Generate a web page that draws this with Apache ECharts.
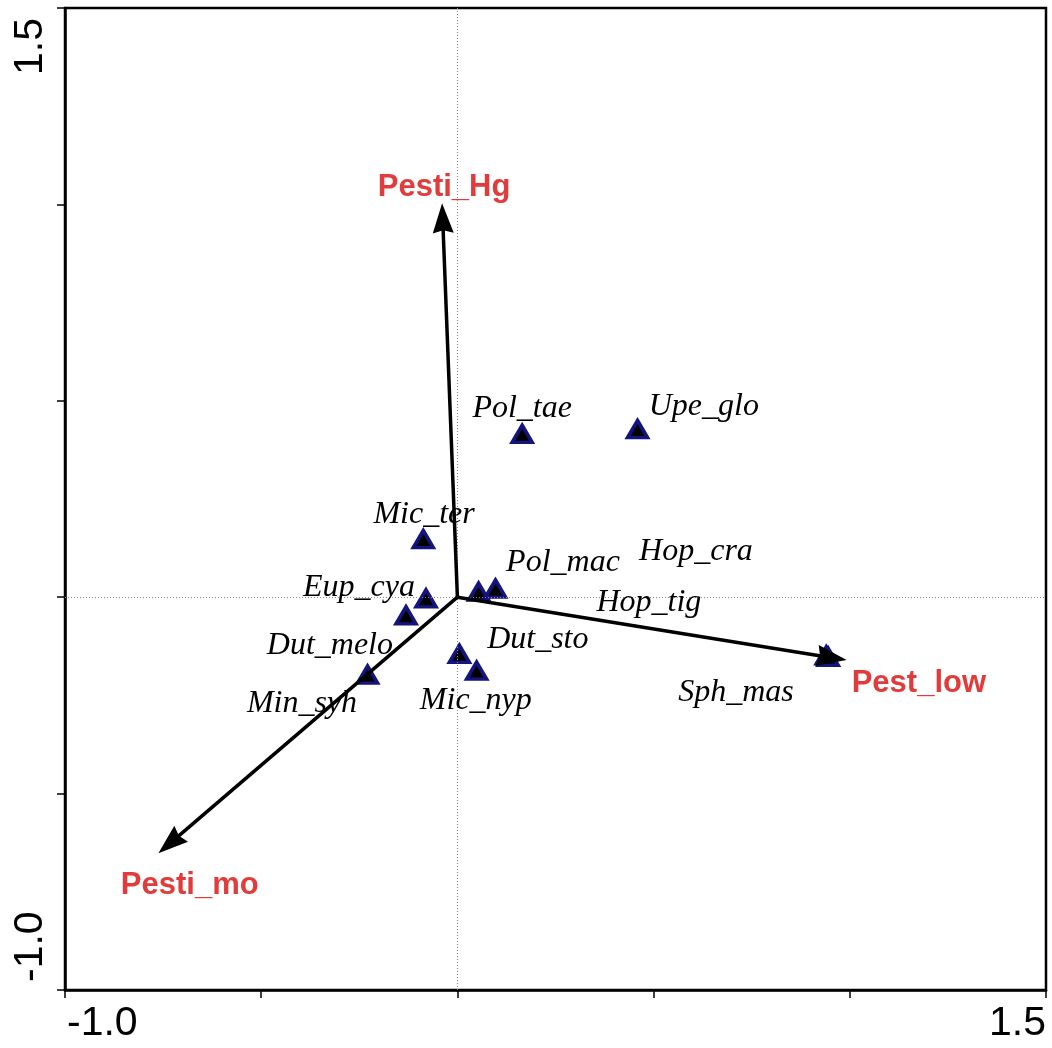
<!DOCTYPE html>
<html>
<head>
<meta charset="utf-8">
<script src="https://cdn.jsdelivr.net/npm/echarts@6/dist/echarts.min.js"></script>
<style>
  html, body { margin: 0; padding: 0; background: #fff; }
  #chart { width: 1052px; height: 1048px; }
</style>
</head>
<body>
<div id="chart"></div>
<script>
// Species scores (ordination axes 1 and 2)
var speciesNames = ['Pol_tae', 'Upe_glo', 'Mic_ter', 'Pol_mac', 'Hop_cra', 'Eup_cya',
                    'Hop_tig', 'Dut_melo', 'Dut_sto', 'Min_syh', 'Mic_nyp', 'Sph_mas'];
var speciesX = [0.165, 0.459, -0.087, 0.054, 0.940, -0.080, 0.097, -0.131, 0.005, -0.229, 0.049, 0.945];
var speciesY = [0.416, 0.428, 0.148, 0.014, -0.148, -0.003, 0.022, -0.046, -0.144, -0.197, -0.187, -0.152];
// Where each species name is written
var speciesLabelX = [0.165, 0.628, -0.085, 0.269, 0.608, -0.251, 0.488, -0.325, 0.205, -0.396, 0.047, 0.710];
var speciesLabelY = [0.481, 0.486, 0.211, 0.089, 0.117, 0.025, -0.015, -0.122, -0.109, -0.270, -0.262, -0.244];

// Environmental variable arrows
var envNames = ['Pesti_Hg', 'Pest_low', 'Pesti_mo'];
var envX = [-0.039, 0.992, -0.762];
var envY = [1.003, -0.160, -0.652];
var envLabelX = [-0.034, 1.176, -0.682];
var envLabelY = [1.044, -0.219, -0.733];

// Axis range and ticks
var axisMin = -1.0, axisMax = 1.5, axisStep = 0.5;

var speciesPoints = speciesNames.map(function (n, i) { return [speciesX[i], speciesY[i], n]; });
var speciesLabels = speciesNames.map(function (n, i) { return [speciesLabelX[i], speciesLabelY[i], n]; });
var envArrows = envNames.map(function (n, i) { return [envX[i], envY[i], n]; });
var envLabels = envNames.map(function (n, i) { return [envLabelX[i], envLabelY[i], n]; });

function endLabel(v) {
  if (Math.abs(v - axisMin) < 1e-9 || Math.abs(v - axisMax) < 1e-9) return v.toFixed(1);
  return '';
}

var chart = echarts.init(document.getElementById('chart'), null, { renderer: 'canvas' });

function makeAxis(extraLabel) {
  var label = {
    show: true,
    formatter: endLabel,
    color: '#000',
    fontFamily: 'Liberation Sans, Arial, sans-serif',
    fontSize: 41,
    showMinLabel: true,
    showMaxLabel: true,
    alignMinLabel: 'left',
    alignMaxLabel: 'right'
  };
  for (var k in extraLabel) label[k] = extraLabel[k];
  return {
    type: 'value',
    min: axisMin,
    max: axisMax,
    interval: axisStep,
    splitLine: { show: false },
    axisLine: { show: true, onZero: false, lineStyle: { color: '#000', width: 2.5 } },
    axisTick: { show: true, inside: false, length: 8, lineStyle: { color: '#000', width: 1.5 } },
    axisLabel: label
  };
}

var option = {
  backgroundColor: '#fff',
  animation: false,
  grid: {
    left: 65, right: 6, top: 8, bottom: 58,
    show: true, borderColor: '#000', borderWidth: 2.5, backgroundColor: 'transparent'
  },
  xAxis: makeAxis({ margin: 13, padding: [0, 0, 0, 2] }),
  yAxis: makeAxis({ rotate: 90, margin: 14, padding: [0, 10, 0, 8] }),
  series: [
    {
      // origin cross-hairs
      type: 'scatter',
      data: [],
      silent: true,
      markLine: {
        silent: true,
        symbol: ['none', 'none'],
        label: { show: false },
        lineStyle: { color: '#8a8a8a', type: [1, 2], width: 1, opacity: 1 },
        data: [{ xAxis: 0 }, { yAxis: 0 }]
      }
    },
    {
      type: 'scatter',
      data: speciesPoints,
      symbol: 'triangle',
      symbolSize: [20, 17],
      z: 3,
      itemStyle: { color: '#000', borderColor: '#14147f', borderWidth: 3.5, opacity: 1 }
    },
    {
      // arrows from the origin to each variable score
      type: 'custom',
      data: envArrows,
      z: 5,
      renderItem: function (params, api) {
        var p0 = api.coord([0, 0]);
        var p1 = api.coord([api.value(0), api.value(1)]);
        var dx = p1[0] - p0[0], dy = p1[1] - p0[1];
        var len = Math.sqrt(dx * dx + dy * dy);
        var ux = dx / len, uy = dy / len;
        var headLen = 30, headHalf = 10.5;
        var bx = p1[0] - ux * headLen, by = p1[1] - uy * headLen;
        var nx = -uy, ny = ux;
        return {
          type: 'group',
          children: [
            {
              type: 'line',
              shape: { x1: p0[0], y1: p0[1], x2: bx + ux * 4, y2: by + uy * 4 },
              style: { stroke: '#000', lineWidth: 3.5 }
            },
            {
              type: 'polygon',
              shape: {
                points: [
                  [p1[0], p1[1]],
                  [bx + nx * headHalf, by + ny * headHalf],
                  [bx + ux * 3, by + uy * 3],
                  [bx - nx * headHalf, by - ny * headHalf]
                ]
              },
              style: { fill: '#000' }
            }
          ]
        };
      }
    },
    {
      type: 'scatter',
      data: speciesLabels,
      symbolSize: 0,
      silent: true,
      z: 6,
      itemStyle: { opacity: 1 },
      label: {
        show: true,
        position: 'inside',
        formatter: function (p) { return p.value[2]; },
        color: '#000',
        opacity: 1,
        fontFamily: 'Liberation Serif, Times New Roman, serif',
        fontStyle: 'italic',
        fontSize: 32
      }
    },
    {
      type: 'scatter',
      data: envLabels,
      symbolSize: 0,
      silent: true,
      z: 6,
      itemStyle: { opacity: 1 },
      label: {
        show: true,
        position: 'inside',
        formatter: function (p) { return p.value[2]; },
        color: '#e23b3b',
        opacity: 1,
        fontFamily: 'Liberation Sans, Arial, sans-serif',
        fontWeight: 'bold',
        fontSize: 31
      }
    }
  ]
};

chart.setOption(option);
</script>
</body>
</html>
